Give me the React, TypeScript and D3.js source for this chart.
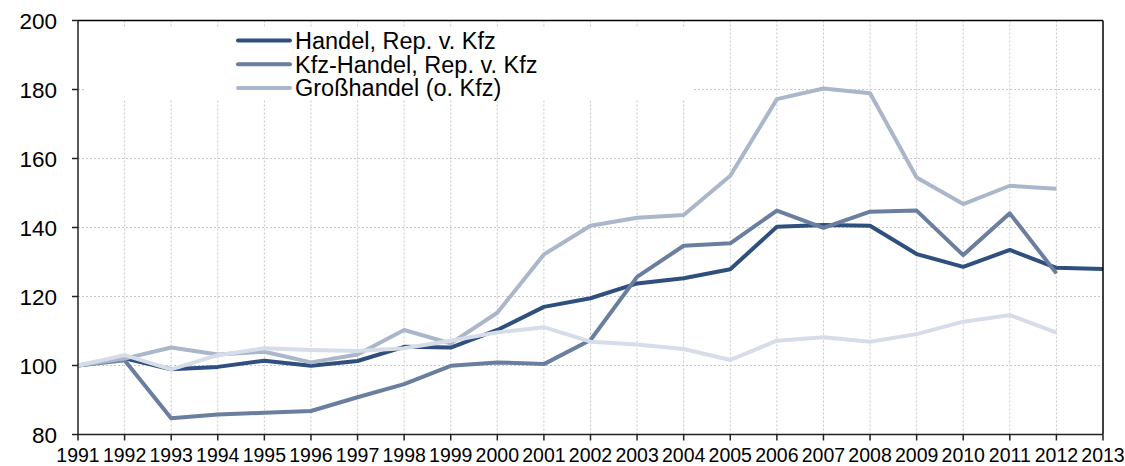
import React from "react";
import * as d3 from "d3";

const years = d3.range(1991, 2014);
const yTicks = [80, 100, 120, 140, 160, 180, 200];

const handel = [100, 102.1, 98.9, 99.6, 101.4, 99.9, 101.3, 105.4, 105.2, 110.3, 117.0, 119.5, 123.8, 125.3, 127.9, 140.2, 140.7, 140.5, 132.3, 128.6, 133.5, 128.3, 128.0];
const kfzHandel = [100, 101.5, 84.7, 85.8, 86.3, 86.8, 90.8, 94.6, 99.9, 100.9, 100.4, 107.4, 125.7, 134.7, 135.4, 144.9, 139.9, 144.6, 144.9, 132.0, 144.1, 126.7, null];
const grosshandel = [100, 102.0, 105.2, 103.2, 104.0, 100.9, 103.2, 110.3, 106.4, 115.3, 132.2, 140.5, 142.8, 143.6, 155.0, 177.2, 180.3, 178.9, 154.5, 146.8, 152.1, 151.2, null];
const einzelhandel = [100, 103.0, 98.9, 103.0, 105.0, 104.5, 104.2, 105.0, 107.2, 109.6, 111.1, 106.9, 106.1, 104.8, 101.6, 107.2, 108.2, 106.9, 109.1, 112.7, 114.6, 109.5, null];

const seriesNames = ["Handel, Rep. v. Kfz", "Kfz-Handel, Rep. v. Kfz", "Großhandel (o. Kfz)"];
const seriesColors = ["#2f4f7f", "#6a7e9f", "#aab6ca", "#d6dde8"];

export default function App() {
  const W = 1125, H = 466;
  const x0 = 78, x1 = 1103, yTop = 20.5, yBot = 434.5;
  const x = d3.scaleLinear().domain([1991, 2013]).range([x0, x1]);
  const y = d3.scaleLinear().domain([80, 200]).range([yBot, yTop]);
  const line = d3.line<number | null>()
    .defined((d) => d != null)
    .x((_, i) => x(years[i]))
    .y((d) => y(d as number));
  const allSeries = [handel, kfzHandel, grosshandel, einzelhandel];
  const font = "'Liberation Sans', Arial, sans-serif";

  return (
    <svg width={W} height={H} style={{ position: "absolute", left: 0, top: 0, background: "#fff" }} fontFamily={font}>
      {/* grid */}
      {years.slice(1, -1).map((yr) => (
        <line key={"v" + yr} x1={x(yr)} x2={x(yr)} y1={yTop} y2={yBot} stroke="#c8c8c8" strokeWidth={1} strokeDasharray="2,2" />
      ))}
      {yTicks.slice(1, -1).map((t) => (
        <line key={"h" + t} x1={x0} x2={x1} y1={y(t)} y2={y(t)} stroke="#c8c8c8" strokeWidth={1} strokeDasharray="2,2" />
      ))}
      {/* legend background */}
      <rect x={85} y={27} width={608} height={73} fill="#fff" />
      {/* series */}
      {allSeries.map((s, i) => (
        <path key={i} d={line(s) || ""} fill="none" stroke={seriesColors[i]} strokeWidth={4} strokeLinejoin="round" />
      ))}
      {/* frame */}
      <line x1={x0} x2={x1} y1={yTop} y2={yTop} stroke="#000" strokeWidth={1.5} />
      <line x1={x1} x2={x1} y1={yTop} y2={yBot} stroke="#000" strokeWidth={1.5} />
      <line x1={x0} x2={x0} y1={yTop} y2={yBot} stroke="#222" strokeWidth={1.5} />
      <line x1={x0} x2={x1} y1={yBot} y2={yBot} stroke="#222" strokeWidth={1.5} />
      {/* y ticks */}
      {yTicks.map((t) => (
        <g key={"yt" + t}>
          <line x1={x0 - 6} x2={x0} y1={y(t)} y2={y(t)} stroke="#222" strokeWidth={1.5} />
          <text x={57} y={y(t)} dy="0.36em" textAnchor="end" fontSize={22.5} fill="#000">{t}</text>
        </g>
      ))}
      {/* x ticks */}
      {years.map((yr) => (
        <g key={"xt" + yr}>
          <line x1={x(yr)} x2={x(yr)} y1={yBot} y2={yBot + 6} stroke="#222" strokeWidth={1.5} />
          <text x={x(yr)} y={462} textAnchor="middle" fontSize={19.5} fill="#000">{yr}</text>
        </g>
      ))}
      {/* legend */}
      {seriesNames.map((n, i) => (
        <g key={"lg" + i}>
          <line x1={238} x2={290} y1={40.5 + i * 23.7} y2={40.5 + i * 23.7} stroke={seriesColors[i]} strokeWidth={4} strokeLinecap="round" />
          <text x={295} y={40.5 + i * 23.7} dy="0.36em" fontSize={23.5} fill="#000">{n}</text>
        </g>
      ))}
    </svg>
  );
}
